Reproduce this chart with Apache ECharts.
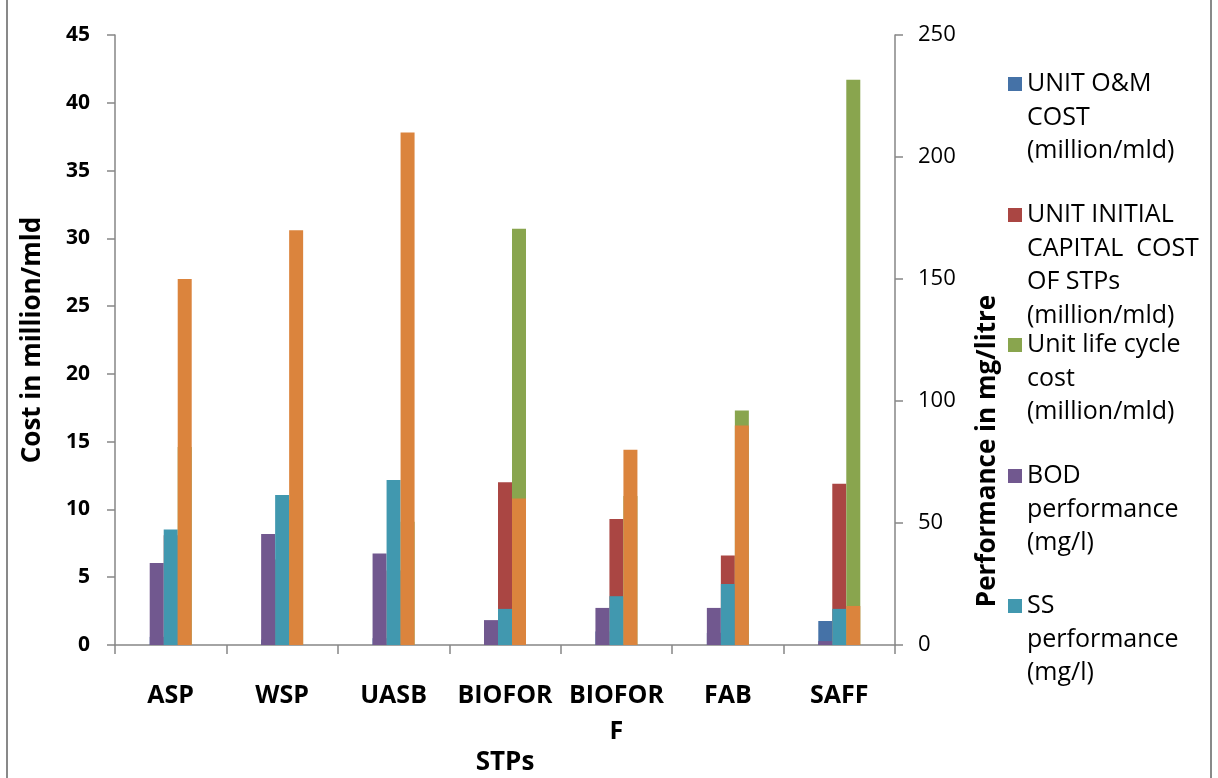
<!DOCTYPE html>
<html>
<head>
<meta charset="utf-8">
<script src="https://cdn.jsdelivr.net/npm/echarts@6/dist/echarts.min.js"></script>
<style>
html,body{margin:0;padding:0;background:#fff;}
#chart{width:1218px;height:778px;}
</style>
</head>
<body>
<div id="chart"></div>
<script>
// ---- data ----
const categories = ['ASP', 'WSP', 'UASB', 'BIOFOR', 'BIOFOR F', 'FAB', 'SAFF'];
// primary (left) axis, million/mld
const omCost        = [0.6, 0.4, 0.5, 1.1, 1.0, 0.9, 1.77];
const capitalCost   = [8.1, 6.3, 5.5, 12.0, 9.3, 6.6, 11.9];
const lifeCycleCost = [14.6, 10.7, 9.1, 30.7, 11.0, 17.3, 41.7];
// secondary (right) axis, mg/l
const bodPerf = [33.6, 45.5, 37.5, 10.2, 15.2, 15.2, 1.6];
const ssPerf  = [47.3, 61.5, 67.6, 14.8, 20, 25, 14.8];
const codPerf = [150, 170, 210, 60, 80, 90, 16];

const seriesNames = [
  'UNIT O&M COST (million/mld)',
  'UNIT INITIAL CAPITAL  COST OF STPs (million/mld)',
  'Unit life cycle cost (million/mld)',
  'BOD performance (mg/l)',
  'SS performance (mg/l)',
  'COD performance (mg/l)'
];
const legendLines = [
  ['UNIT O&M', 'COST', '(million/mld)'],
  ['UNIT INITIAL', 'CAPITAL  COST', 'OF STPs', '(million/mld)'],
  ['Unit life cycle', 'cost', '(million/mld)'],
  ['BOD', 'performance', '(mg/l)'],
  ['SS', 'performance', '(mg/l)']
];
const colors = ['#4572A7', '#AA4643', '#89A54E', '#71588F', '#4198AF', '#DB843D'];

const FONT = '"Open Sans", "Liberation Sans", sans-serif';
const AXIS_GRAY = '#868686';
const LH = 33.5;
const markerCenters = [84, 215, 345, 476, 606];

// each legend entry: marker aligned with the first text line (blank lines are
// prepended so the text block's centre falls on the first real line)
const legends = legendLines.map((lines, i) => {
  const n = lines.length;
  const text = new Array(n - 1).fill('').concat(lines).join('\n');
  return {
    data: [seriesNames[i]],
    left: 1008,
    top: markerCenters[i] - (2 * n - 1) * LH / 2,
    orient: 'vertical',
    padding: 0,
    icon: 'rect',
    itemWidth: 14,
    itemHeight: 14,
    itemGap: 0,
    selectedMode: false,
    formatter: () => text,
    textStyle: { fontFamily: FONT, fontSize: 25, color: '#000', lineHeight: LH }
  };
});

function barSeries(idx, data, axisIdx) {
  return {
    name: seriesNames[idx],
    type: 'bar',
    xAxisIndex: axisIdx,
    yAxisIndex: axisIdx,
    data: data,
    barWidth: 14,
    barGap: '0%',
    itemStyle: { color: colors[idx] }
  };
}

const chart = echarts.init(document.getElementById('chart'), null, { renderer: 'canvas' });
chart.setOption({
  animation: false,
  backgroundColor: '#fff',
  legend: legends,
  grid: { left: 115, right: 323, top: 35, bottom: 133, containLabel: false, outerBoundsMode: 'none' },
  xAxis: [
    {
      type: 'category', data: categories,
      axisLine: { lineStyle: { color: AXIS_GRAY, width: 1.5 } },
      axisTick: { show: true, length: 9, lineStyle: { color: AXIS_GRAY, width: 1.5 } },
      axisLabel: {
        interval: 0, margin: 33, color: '#000', fontFamily: FONT, fontWeight: 'bold',
        fontSize: 25, lineHeight: 36,
        formatter: v => v.replace(' ', '\n')
      },
      name: 'STPs', nameLocation: 'middle', nameGap: 105, nameMoveOverlap: false,
      nameTextStyle: { color: '#000', fontFamily: FONT, fontWeight: 'bold', fontSize: 26 }
    },
    { type: 'category', data: categories, show: false }
  ],
  yAxis: [
    {
      type: 'value', min: 0, max: 45, interval: 5, position: 'left',
      axisLine: { show: true, lineStyle: { color: AXIS_GRAY, width: 1.5 } },
      axisTick: { show: true, length: 8, lineStyle: { color: AXIS_GRAY, width: 1.5 } },
      splitLine: { show: false },
      axisLabel: { margin: 25, color: '#000', fontFamily: FONT, fontWeight: 'bold', fontSize: 21 },
      name: 'Cost in million/mld', nameLocation: 'middle', nameGap: 69, nameMoveOverlap: false,
      nameTextStyle: { color: '#000', fontFamily: FONT, fontWeight: 'bold', fontSize: 26 }
    },
    {
      type: 'value', min: 0, max: 250, interval: 50, position: 'right',
      axisLine: { show: true, lineStyle: { color: AXIS_GRAY, width: 1.5 } },
      axisTick: { show: true, length: 8, lineStyle: { color: AXIS_GRAY, width: 1.5 } },
      splitLine: { show: false },
      axisLabel: { margin: 23, color: '#000', fontFamily: FONT, fontSize: 22 },
      name: 'Performance in mg/litre', nameLocation: 'middle', nameGap: 80, nameMoveOverlap: false,
      nameTextStyle: { color: '#000', fontFamily: FONT, fontWeight: 'bold', fontSize: 26, padding: [0, 222, 0, 0] }
    }
  ],
  series: [
    barSeries(0, omCost, 0),
    barSeries(1, capitalCost, 0),
    barSeries(2, lifeCycleCost, 0),
    barSeries(3, bodPerf, 1),
    barSeries(4, ssPerf, 1),
    barSeries(5, codPerf, 1)
  ],
  graphic: [{
    type: 'rect', silent: true, z: 100,
    shape: { x: 7, y: -3, width: 1204, height: 786 },
    style: { fill: 'none', stroke: '#898989', lineWidth: 2 }
  }]
});
</script>
</body>
</html>
